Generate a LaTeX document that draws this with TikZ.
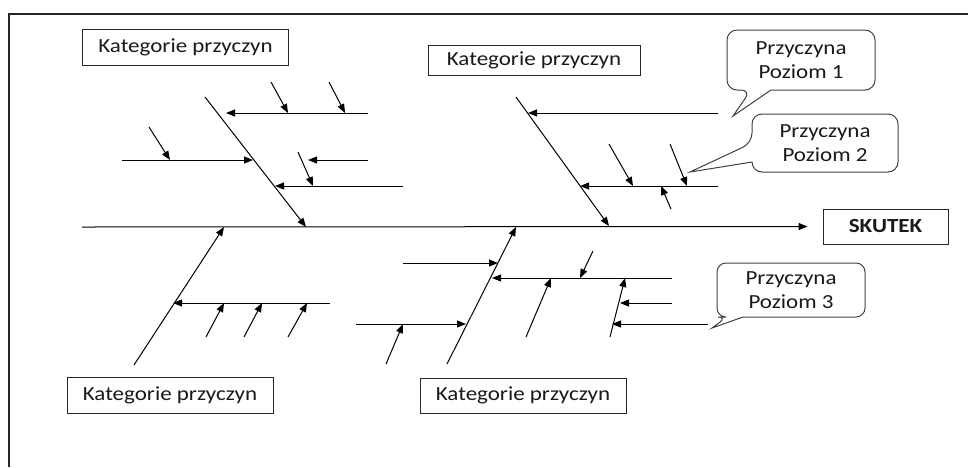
\documentclass[tikz,border=0pt]{standalone}
\usepackage{fontspec}
\setmainfont{Carlito}[FakeStretch=1.15]
\usetikzlibrary{arrows.meta}
\tikzset{
  bone/.style={line width=1pt, draw=black, -{Triangle[length=9pt,width=7pt]}},
  catbox/.style={draw=black!85, line width=1pt, inner sep=0pt, minimum width=206pt, minimum height=36pt, font=\fontsize{20}{24}\selectfont, text=black!90},
  calloutline/.style={draw=black!75, line width=1pt},
  callouttext/.style={align=center, font=\fontsize{20}{24}\selectfont, text=black!90, inner sep=0pt},
  frameline/.style={draw=black!85, line width=1.3pt}
}
\begin{document}
\begin{tikzpicture}[x=1pt,y=-1pt]
\useasboundingbox (0,0) rectangle (968,467);
% outer frame
\coordinate (fa) at (9,467);
\coordinate (fb) at (9,14);
\coordinate (fc) at (968,14);
\draw[frameline] (fa) -- (fb) -- (fc);

% category boxes and effect
\node[catbox] (k1) at (185.5,47) {Kategorie przyczyn};
\node[catbox, minimum width=212pt, minimum height=30pt] (k2) at (534,60) {Kategorie przyczyn};
\node[catbox] (k3) at (170,395.5) {Kategorie przyczyn};
\node[catbox, minimum height=35pt] (k4) at (523,395.5) {Kategorie przyczyn};
\node[catbox, minimum width=125pt, minimum height=35pt, font=\fontsize{20}{24}\selectfont\bfseries] (skutek) at (885.5,226.5) {SKUTEK};

% spine
\coordinate (tail) at (82,227);
\draw[bone, shorten >=15pt] (tail) -- (skutek.west);

% bones and causes
\foreach \sx/\sy/\ex/\ey [count=\i] in {
  205/97/306/227, 368/113/226/113, 271/82/288/113, 329/82/345/113,
  122/160/253/160, 149/127/170/160, 368/160/308/160, 403/186/275/186, 298/152/313/186,
  516/97/609/226, 718/113/528/113, 718/186/580/186, 609/144/633/186, 670/144/687/186, 671/209/661/186,
  134/365/224/227, 330/303/173/303, 206/337/224/303, 244/337/262/303, 288/337/307/303,
  447/364/516/227, 403/263/498/263, 672/278/492/278, 356/324/466/324, 386/364/403/324,
  593/251/580/278, 526/337/551/278, 610/337/625/278, 672/303/620/303, 708/324/612/324}
{
  \coordinate (s\i) at (\sx,\sy);
  \coordinate (e\i) at (\ex,\ey);
  \draw[bone] (s\i) -- (e\i);
}

% callout 1
\draw[calloutline] (771,90) [rounded corners=10pt] -- (875,90) -- (875,30) -- (727,30) -- (727,90) -- (751,90) [sharp corners] -- (733,116) -- cycle;
\node[callouttext] (c1) at (801,60) {Przyczyna\\Poziom 1};
% callout 2
\draw[calloutline] (752,162) [rounded corners=10pt] -- (752,172) -- (898,172) -- (898,114) -- (752,114) -- (752,143) [sharp corners] -- (690,172) -- cycle;
\node[callouttext] (c2) at (825,143) {Przyczyna\\Poziom 2};
% callout 3
\draw[calloutline] (743,317) [rounded corners=9pt] -- (865,317) -- (865,263) -- (717,263) -- (717,317) -- (727,317) [sharp corners] -- (712,328) -- cycle;
\node[callouttext] (c3) at (791,290) {Przyczyna\\Poziom 3};
\end{tikzpicture}
\end{document}
